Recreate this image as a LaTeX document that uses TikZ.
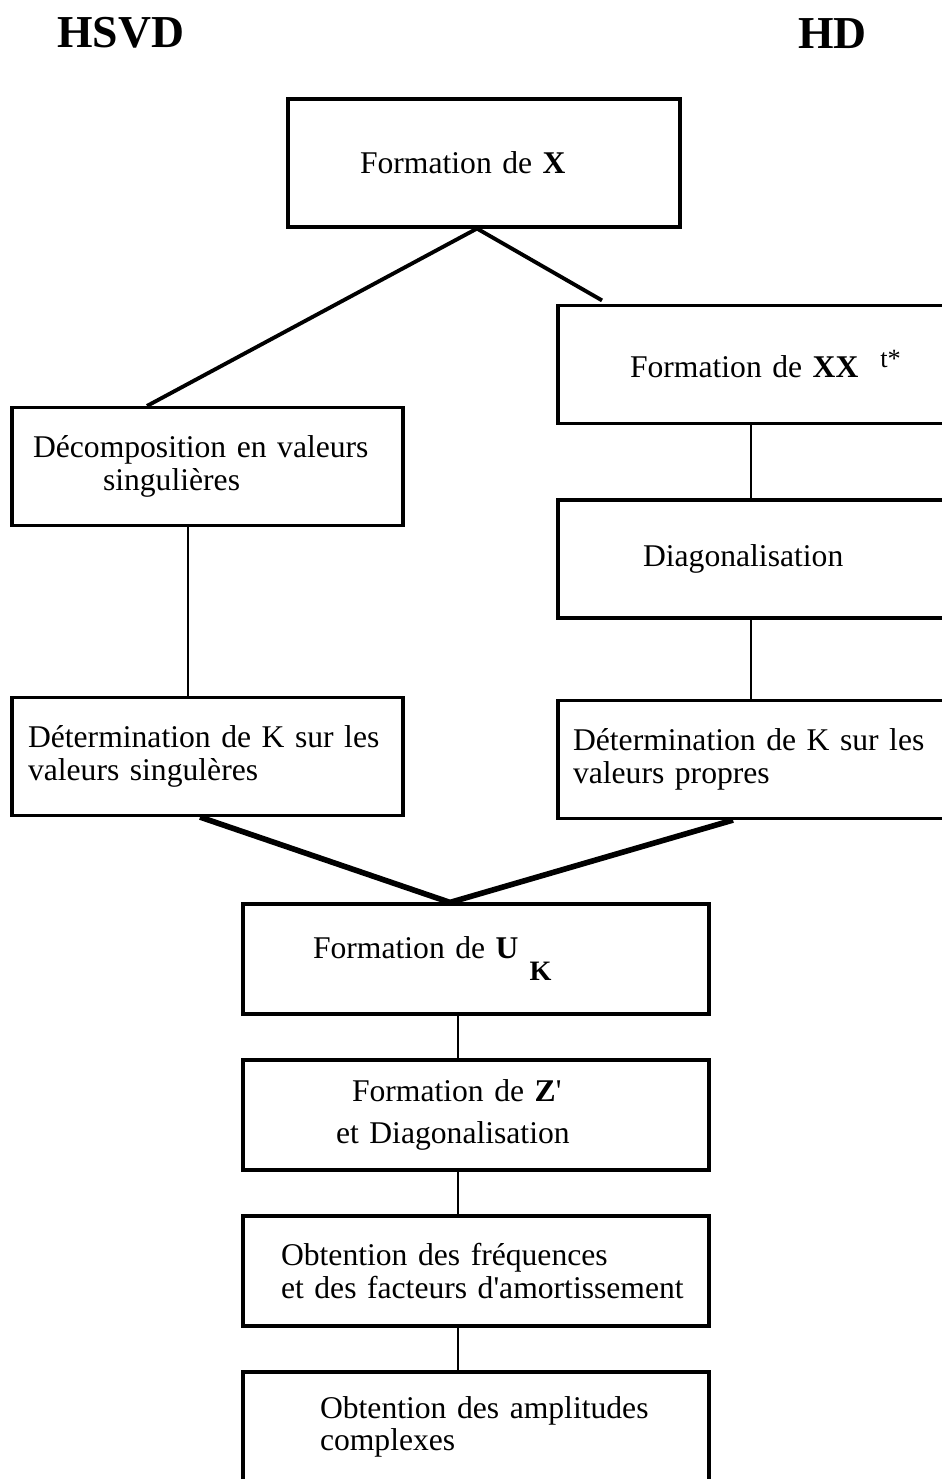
\documentclass[tikz,border=0pt]{standalone}
\usepackage{fontspec}
\setmainfont{Liberation Serif}
\usetikzlibrary{positioning}

\tikzset{
  box/.style={draw,line width=1.8pt,inner xsep=0pt,inner ysep=0pt,align=left,
    font=\fontsize{18}{18.5}\selectfont},
  lbox/.style={box,text width=7.82cm,minimum height=2.36cm},
  rbox/.style={box,text width=7.72cm,minimum height=2.36cm},
  mbox/.style={box,text width=9.32cm,minimum height=2.2cm},
  heading/.style={font=\fontsize{26}{26}\selectfont\bfseries,inner sep=0pt,anchor=base west},
  link/.style={line width=1pt},
  splitline/.style={line width=2.2pt},
  mergeline/.style={line width=3.2pt},
}

\begin{document}
\begin{tikzpicture}[x=0.02cm,y=-0.02cm,node distance=3.12cm,on grid]
		\fill[white] (0,0) rectangle (941,1479);
		\useasboundingbox (0,0) rectangle (941,1479);
		% titles
		\node[heading](hsvd) at (57,48) {HSVD};
		\node[heading](hd) at (798,49) {HD};
		% boxes
		\node[box,text width=7.84cm,minimum height=2.56cm](fx) at (484,163)
			{\hspace*{1.44cm}Formation de \textbf{X}};
		\node[rbox](xxt) at (751,364.5)
			{\hspace*{1.44cm}Formation de \textbf{XX}\hspace{0.44cm}\raisebox{0.2cm}{\fontsize{15}{15}\selectfont t*}};
		\node[lbox](dec) at (207.5,466.5)
			{\hspace*{0.42cm}Décomposition en valeurs\\ \hspace*{1.82cm}singulières};
		\node[rbox](diag) at (751,559) {\hspace*{1.7cm}Diagonalisation};
		\node[lbox](detk) at (207.5,756.5)
			{\hspace*{0.32cm}Détermination de K sur les\\ \hspace*{0.32cm}valeurs singulères};
		\node[rbox](detp) at (751,759.5)
			{\hspace*{0.3cm}Détermination de K sur les\\ \hspace*{0.3cm}valeurs propres};
		\node[mbox](uk) at (476,959)
			{\hspace*{1.4cm}Formation de \textbf{U}\hspace{0.22cm}\raisebox{-0.44cm}{\fontsize{16}{16}\selectfont\textbf{K}}};
		\node[mbox](zd)[below=of uk]
			{\hspace*{2.18cm}Formation de \textbf{Z}\textquotesingle\\[5pt] \hspace*{1.86cm}et Diagonalisation};
		\node[mbox](fa)[below=of zd]
			{\hspace*{0.76cm}Obtention des fréquences\\ \hspace*{0.76cm}et des facteurs d\textquotesingle amortissement};
		\node[mbox](amp)[below=of fa]
			{\hspace*{1.54cm}Obtention des amplitudes\\ \hspace*{1.54cm}complexes};
		% connectors
		\coordinate (fxb) at ([xshift=-0.14cm]fx.south);
		\coordinate (lc) at (188,0);
		\coordinate (mc) at (458,0);
		\coordinate (ukt) at ([xshift=-0.52cm]uk.north);
		\draw[splitline] (fxb) -- ([xshift=-1.21cm]dec.north);
		\draw[splitline] (fxb) -- ([xshift=-2.98cm,yshift=2pt]xxt.north);
		\draw[link] (dec.south -| lc) -- (detk.north -| lc);
		\draw[link] (xxt.south) -- (diag.north);
		\draw[link] (diag.south) -- (detp.north);
		\draw[mergeline] ([xshift=-0.15cm]detk.south) -- (ukt) -- ([xshift=-0.36cm]detp.south);
		\foreach \a/\b in {uk/zd,zd/fa,fa/amp}
			\draw[link] (\a.south -| mc) -- (\b.north -| mc);
\end{tikzpicture}
\end{document}
